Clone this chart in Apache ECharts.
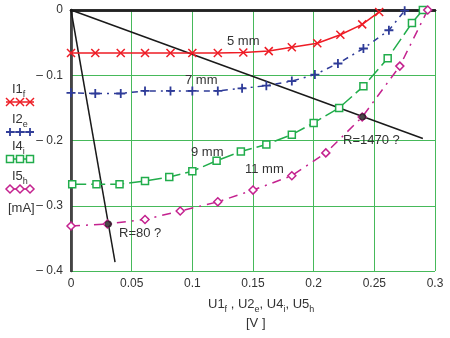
<!DOCTYPE html>
<html>
<head>
<meta charset="utf-8">
<script src="https://cdn.jsdelivr.net/npm/echarts@6/dist/echarts.min.js"></script>
<style>
html, body { margin: 0; padding: 0; background: #fff; }
#chart { width: 450px; height: 338px; }
</style>
</head>
<body>
<div id="chart"></div>
<script>
// 5 mm (I1f)
var x5 = [0, 0.02, 0.041, 0.061, 0.082, 0.1, 0.121, 0.142, 0.163, 0.182, 0.203, 0.222, 0.24, 0.254]
var y5 = [-0.066, -0.066, -0.066, -0.066, -0.066, -0.066, -0.066, -0.065, -0.063, -0.057, -0.051, -0.038, -0.022, -0.003]
// 7 mm (I2e)
var x7 = [0, 0.02, 0.041, 0.061, 0.082, 0.1, 0.121, 0.141, 0.161, 0.182, 0.201, 0.22, 0.241, 0.262, 0.275]
var y7 = [-0.127, -0.128, -0.128, -0.124, -0.124, -0.124, -0.124, -0.12, -0.116, -0.109, -0.099, -0.082, -0.059, -0.031, -0.001]
// 9 mm (I4i)
var x9 = [0.001, 0.021, 0.04, 0.061, 0.081, 0.1, 0.12, 0.14, 0.161, 0.182, 0.2, 0.221, 0.241, 0.261, 0.281, 0.29]
var y9 = [-0.267, -0.267, -0.267, -0.262, -0.256, -0.247, -0.231, -0.217, -0.206, -0.191, -0.173, -0.15, -0.117, -0.074, -0.02, 0]
// 11 mm (I5h)
var x11 = [0, 0.03, 0.061, 0.09, 0.121, 0.15, 0.182, 0.21, 0.24, 0.271, 0.294]
var y11 = [-0.331, -0.328, -0.321, -0.308, -0.294, -0.276, -0.254, -0.219, -0.164, -0.086, 0]
// load lines
var xR1470 = [0, 0.29]
var yR1470 = [0, -0.197]
var xR80 = [0, 0.0363]
var yR80 = [0, -0.3865]
var xDots = [0.2404, 0.0308]
var yDots = [-0.1635, -0.328]

var RED = '#ee1c25'
var BLUE = '#2e3b98'
var GREEN = '#21ad4b'
var PINK = '#c4228f'
var FONT = '"Liberation Sans", Arial, sans-serif'
var CROSS = 'path://M0,0L10,10M10,0L0,10'
var PLUS = 'path://M5,0L5,10M0,5L10,5'

function pts (xs, ys) {
  return xs.map(function (x, i) { return [x, ys[i]] })
}

var chart = echarts.init(document.getElementById('chart'))

var SUBRICH = {
  b: { fontSize: 13, lineHeight: 14, verticalAlign: 'top', fontFamily: FONT, fill: '#333' },
  s: { fontSize: 9, lineHeight: 9, padding: [7, 0, 0, 0], verticalAlign: 'top', fontFamily: FONT, fill: '#333' }
}

// 左侧图例：一行文字 + 三个符号
function legendRow (top, name, sub, color, sym) {
  var cy = top + 19
  var kids = [{
    type: 'text',
    left: 12,
    top: top,
    style: { text: '{b|' + name + '}{s|' + sub + '}', rich: SUBRICH }
  }, {
    type: 'line',
    shape: { x1: 6, y1: cy, x2: 34, y2: cy },
    style: { stroke: color, lineWidth: 1.5 }
  }]
  ;[10, 20, 30].forEach(function (cx) {
    if (sym === 'cross') {
      kids.push({ type: 'polyline', shape: { points: [[cx - 4, cy - 4], [cx + 4, cy + 4]] }, style: { stroke: color, lineWidth: 1.5 } })
      kids.push({ type: 'polyline', shape: { points: [[cx + 4, cy - 4], [cx - 4, cy + 4]] }, style: { stroke: color, lineWidth: 1.5 } })
    } else if (sym === 'plus') {
      kids.push({ type: 'polyline', shape: { points: [[cx - 4, cy], [cx + 4, cy]] }, style: { stroke: color, lineWidth: 1.8 } })
      kids.push({ type: 'polyline', shape: { points: [[cx, cy - 4], [cx, cy + 4]] }, style: { stroke: color, lineWidth: 1.8 } })
    } else if (sym === 'rect') {
      kids.push({ type: 'rect', shape: { x: cx - 3.5, y: cy - 3.5, width: 7, height: 7 }, style: { fill: '#fff', stroke: color, lineWidth: 1.5 } })
    } else {
      kids.push({ type: 'polygon', shape: { points: [[cx, cy - 4], [cx + 4, cy], [cx, cy + 4], [cx - 4, cy]] }, style: { fill: '#fff', stroke: color, lineWidth: 1.5 } })
    }
  })
  return kids
}

var graphics = []
  .concat(legendRow(83, 'I1', 'f', RED, 'cross'))
  .concat(legendRow(113, 'I2', 'e', BLUE, 'plus'))
  .concat(legendRow(140, 'I4', 'i', GREEN, 'rect'))
  .concat(legendRow(170, 'I5', 'h', PINK, 'diamond'))

function label (txt, left, top) {
  return { type: 'text', left: left, top: top, z: 20, style: { text: txt, fontSize: 13, fontFamily: FONT, fill: '#333' } }
}
graphics.push(
  label('[mA]', 8, 202),
  label('5 mm', 227, 35),
  label('7 mm', 185, 74),
  label('9 mm', 191, 146),
  label('11 mm', 245, 163),
  label('R=1470 ?', 343, 134),
  label('R=80 ?', 119, 227),
  {
    type: 'text',
    left: 208,
    top: 298,
    style: { text: '{b|U1}{s|f}{b| , U2}{s|e}{b|, U4}{s|i}{b|, U5}{s|h}', rich: SUBRICH }
  },
  label('[V ]', 246, 317)
)

var option = {
  animation: false,
  backgroundColor: '#fff',
  textStyle: { fontFamily: FONT },
  grid: { left: 71, right: 15, top: 10, bottom: 67 },
  xAxis: [{
    type: 'value',
    min: 0,
    max: 0.3,
    interval: 0.05,
    axisLine: { lineStyle: { color: '#222', width: 2.5 } },
    axisTick: { show: false },
    axisLabel: {
      color: '#333',
      fontSize: 12,
      margin: 7,
      formatter: function (v) { return String(parseFloat(v.toFixed(2))) }
    },
    splitLine: { show: true, lineStyle: { color: '#46b95a', width: 1 } }
  }, {
    type: 'value',
    position: 'top',
    min: 0,
    max: 0.3,
    axisLine: { show: true, lineStyle: { color: '#222', width: 2.5 } },
    axisTick: { show: false },
    axisLabel: { show: false },
    splitLine: { show: false }
  }],
  yAxis: [{
    type: 'value',
    min: -0.4,
    max: 0,
    interval: 0.1,
    axisLine: { show: true, lineStyle: { color: '#222', width: 2.5 } },
    axisTick: { show: false },
    axisLabel: {
      color: '#333',
      fontSize: 12,
      margin: 8,
      formatter: function (v) { return v === 0 ? '0' : '\u2013 ' + (-v).toFixed(1) }
    },
    splitLine: { show: true, lineStyle: { color: '#46b95a', width: 1 } }
  }, {
    type: 'value',
    position: 'right',
    min: -0.4,
    max: 0,
    axisLine: { show: true, lineStyle: { color: '#444', width: 2 } },
    axisTick: { show: false },
    axisLabel: { show: false },
    splitLine: { show: false }
  }],
  graphic: graphics,
  series: [{
    name: 'R=1470',
    type: 'line',
    data: pts(xR1470, yR1470),
    symbol: 'none',
    lineStyle: { color: '#1a1a1a', width: 1.5 },
    z: 3
  }, {
    name: 'R=80',
    type: 'line',
    data: pts(xR80, yR80),
    symbol: 'none',
    lineStyle: { color: '#1a1a1a', width: 1.5 },
    z: 3
  }, {
    name: '5 mm',
    type: 'line',
    data: pts(x5, y5),
    symbol: CROSS,
    symbolSize: 8,
    lineStyle: { color: RED, width: 1.5 },
    itemStyle: { color: RED, borderColor: RED, borderWidth: 1.5 },
    z: 4
  }, {
    name: '7 mm',
    type: 'line',
    data: pts(x7, y7),
    symbol: PLUS,
    symbolSize: 9,
    lineStyle: { color: BLUE, width: 1.5, type: [2, 5, 6, 5] },
    itemStyle: { color: BLUE, borderColor: BLUE, borderWidth: 1.8 },
    z: 4
  }, {
    name: '9 mm',
    type: 'line',
    data: pts(x9, y9),
    symbol: 'rect',
    symbolSize: 7,
    lineStyle: { color: GREEN, width: 1.5, type: [14, 5] },
    itemStyle: { color: '#fff', borderColor: GREEN, borderWidth: 1.5 },
    z: 4
  }, {
    name: '11 mm',
    type: 'line',
    data: pts(x11, y11),
    symbol: 'diamond',
    symbolSize: 8,
    lineStyle: { color: PINK, width: 1.5, type: [9, 6, 2, 6] },
    itemStyle: { color: '#fff', borderColor: PINK, borderWidth: 1.5 },
    z: 4
  }, {
    name: 'dots',
    type: 'scatter',
    data: pts(xDots, yDots),
    symbol: 'circle',
    symbolSize: 7,
    itemStyle: { color: '#1a1a1a' },
    z: 6
  }]
}

chart.setOption(option)
</script>
</body>
</html>
